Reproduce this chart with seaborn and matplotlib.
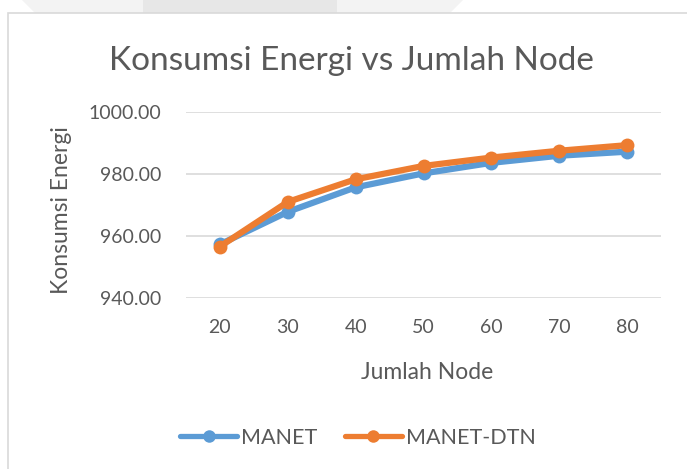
import pandas as pd
import numpy as np
import matplotlib.pyplot as plt
import seaborn as sns
from matplotlib.patches import Rectangle, Polygon
from matplotlib.lines import Line2D

# Data
nodes = ['20', '30', '40', '50', '60', '70', '80']
manet = [957.3, 967.8, 975.7, 980.2, 983.6, 985.9, 987.2]
manet_dtn = [956.6, 971.0, 978.3, 982.6, 985.3, 987.5, 989.3]
series = ['MANET', 'MANET-DTN']
colors = ['#5B9BD5', '#ED7D31']

df = pd.DataFrame({
    'Jumlah Node': nodes * 2,
    'Konsumsi Energi': manet + manet_dtn,
    'Seri': [series[0]] * len(nodes) + [series[1]] * len(nodes),
})

sns.set_theme(style='white')
plt.rcParams['font.family'] = ['Lato', 'DejaVu Sans']

fig = plt.figure(figsize=(6.87, 4.69), dpi=100)

# faint background shape at top and chart frame
fig.patches.append(Polygon([[22 / 687, 1], [463 / 687, 1], [450 / 687, 1 - 13 / 469], [35 / 687, 1 - 13 / 469]],
                           closed=True, transform=fig.transFigure, facecolor='#f3f3f3', edgecolor='none', zorder=0))
fig.patches.append(Rectangle((143 / 687, 1 - 13 / 469), 194 / 687, 13 / 469, transform=fig.transFigure,
                             facecolor='#e7e7e7', edgecolor='none', zorder=0))
fig.patches.append(Rectangle((8 / 687, -0.01), 0.99, 1 - 13 / 469 + 0.01, transform=fig.transFigure,
                             facecolor='none', edgecolor='#d9d9d9', linewidth=1.2, zorder=1))

ax = fig.add_axes([186 / 687, 171 / 469, 475 / 687, 186 / 469])

sns.lineplot(data=df, x='Jumlah Node', y='Konsumsi Energi', hue='Seri', palette=colors,
             marker='o', markersize=10, markeredgewidth=0, linewidth=4.5, ax=ax, legend=False, sort=False)

ax.set_xlim(-0.5, 6.5)
ax.set_ylim(940, 1000)
ax.set_yticks([940, 960, 980, 1000])
ax.set_yticklabels([f'{v:.2f}' for v in [940, 960, 980, 1000]])
ax.yaxis.grid(True, color='#d9d9d9', linewidth=1.2)
ax.xaxis.grid(False)
ax.set_axisbelow(True)
for s in ax.spines.values():
    s.set_visible(False)
ax.tick_params(axis='both', length=0, labelsize=14, colors='#595959')
ax.tick_params(axis='x', pad=15)
ax.tick_params(axis='y', pad=18)

ax.set_xlabel('Jumlah Node', fontsize=16.5, color='#595959', va='center')
ax.set_ylabel('Konsumsi Energi', fontsize=16.5, color='#595959', va='center')
ax.xaxis.set_label_coords((427 - 186) / 475, (298 - 372) / 186)
ax.yaxis.set_label_coords((62 - 186) / 475, (298 - 210) / 186)

fig.text(351 / 687, 1 - 61 / 469, 'Konsumsi Energi vs Jumlah Node', ha='center', va='center',
         fontsize=24, color='#595959')

handles = [Line2D([], [], color=c, linewidth=3.8, marker='o', markersize=9, markeredgewidth=0)
           for c in colors]
fig.legend(handles, series, loc='center', bbox_to_anchor=(358 / 687, 1 - 438 / 469), ncol=2, frameon=False,
           fontsize=15.5, labelcolor='#595959', handlelength=2.65, handletextpad=0.2, columnspacing=1.25)

fig.savefig('out.png', dpi=100, facecolor='white')
